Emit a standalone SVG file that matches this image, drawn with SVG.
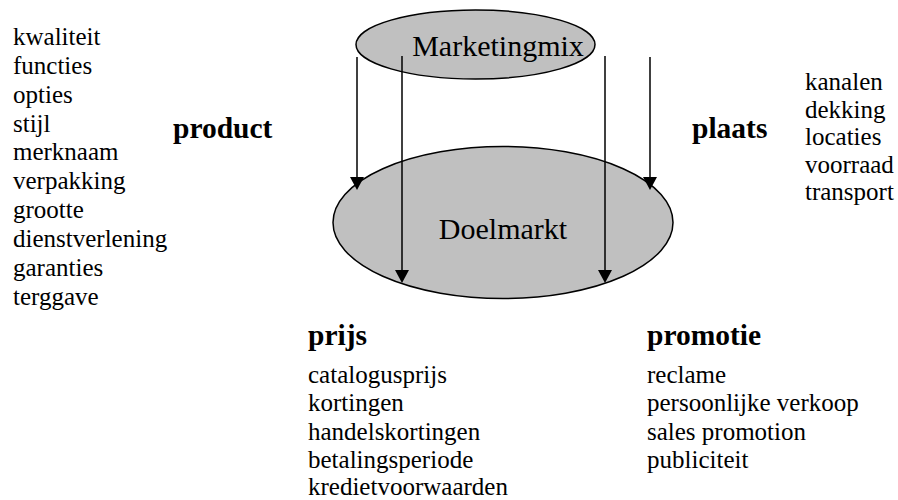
<svg xmlns="http://www.w3.org/2000/svg" width="898" height="500" viewBox="0 0 898 500">
<style>
text{font-family:"Times New Roman","Liberation Serif",Tinos,"DejaVu Serif",serif;fill:#000}
.t{font-size:25px}
.h{font-size:29.5px;font-weight:bold}
.n{font-size:30px}
.ell{fill:#c0c0c0;stroke:#000;stroke-width:1.5}
.c{stroke:#000;stroke-width:1.5;fill:none}
</style>
<g id="doelmarkt">
<ellipse class="ell" cx="503" cy="222.5" rx="170" ry="76"/>
<text class="n" x="503" y="239" text-anchor="middle">Doelmarkt</text>
</g>
<g id="marketingmix">
<ellipse class="ell" cx="475.5" cy="44.5" rx="119.5" ry="34.5"/>
<text class="n" x="498" y="56" text-anchor="middle">Marketingmix</text>
</g>
<g id="connectors">
<line class="c" x1="357" y1="57" x2="357" y2="177"/>
<path d="M350,177 L364,177 L357,190 Z" fill="#000"/>
<line class="c" x1="402" y1="56" x2="402" y2="270"/>
<path d="M395,270 L409,270 L402,283 Z" fill="#000"/>
<line class="c" x1="605" y1="56" x2="605" y2="270"/>
<path d="M598,270 L612,270 L605,283 Z" fill="#000"/>
<line class="c" x1="650" y1="57" x2="650" y2="177"/>
<path d="M643,177 L657,177 L650,190 Z" fill="#000"/>
</g>
<g id="product">
<text class="h" x="173" y="138">product</text>
<text class="t" x="13" y="45">kwaliteit</text>
<text class="t" x="13" y="74">functies</text>
<text class="t" x="13" y="103">opties</text>
<text class="t" x="13" y="132">stijl</text>
<text class="t" x="13" y="160">merknaam</text>
<text class="t" x="13" y="189">verpakking</text>
<text class="t" x="13" y="218">grootte</text>
<text class="t" x="13" y="247">dienstverlening</text>
<text class="t" x="13" y="276">garanties</text>
<text class="t" x="13" y="305">terggave</text>
</g>
<g id="plaats">
<text class="h" x="692" y="138">plaats</text>
<text class="t" x="805" y="90">kanalen</text>
<text class="t" x="805" y="118">dekking</text>
<text class="t" x="805" y="145">locaties</text>
<text class="t" x="805" y="173">voorraad</text>
<text class="t" x="805" y="200">transport</text>
</g>
<g id="prijs">
<text class="h" x="308" y="345">prijs</text>
<text class="t" x="308" y="383">catalogusprijs</text>
<text class="t" x="308" y="411">kortingen</text>
<text class="t" x="308" y="440">handelskortingen</text>
<text class="t" x="308" y="468">betalingsperiode</text>
<text class="t" x="308" y="495">kredietvoorwaarden</text>
</g>
<g id="promotie">
<text class="h" x="647" y="345">promotie</text>
<text class="t" x="647" y="383">reclame</text>
<text class="t" x="647" y="411">persoonlijke verkoop</text>
<text class="t" x="647" y="440">sales promotion</text>
<text class="t" x="647" y="468">publiciteit</text>
</g>
</svg>
